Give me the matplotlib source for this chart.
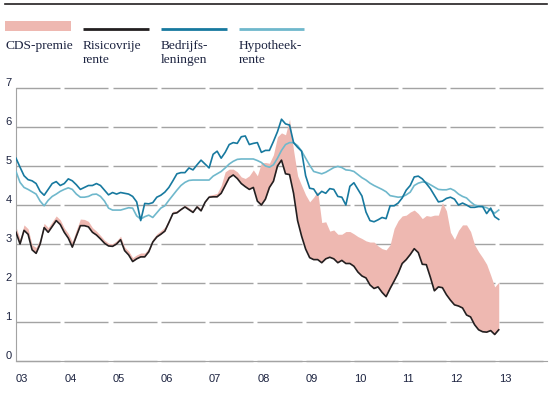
import numpy as np
import matplotlib.pyplot as plt
from matplotlib.patches import Rectangle
from matplotlib.lines import Line2D

# maandcijfers jan 2003 t/m jan 2013 (in %)
start_year = 2003
year_labels = ['03', '04', '05', '06', '07', '08', '09', '10', '11', '12', '13']

risicovrij = [
    3.3, 3.0, 3.35, 3.25, 2.85, 2.76, 3.0, 3.42, 3.3, 3.45, 3.6, 3.5,
    3.3, 3.15, 2.92, 3.2, 3.47, 3.47, 3.44, 3.3, 3.23, 3.13, 3.02, 2.95,
    2.94, 3.0, 3.11, 2.83, 2.72, 2.55, 2.62, 2.67, 2.67, 2.8, 3.05, 3.18,
    3.25, 3.33, 3.55, 3.78, 3.8, 3.88, 3.95, 3.88, 3.81, 3.95, 3.85, 4.07,
    4.2, 4.21, 4.21, 4.3, 4.5, 4.7, 4.77, 4.68, 4.55, 4.47, 4.4, 4.45,
    4.1, 4.0, 4.15, 4.45, 4.61, 5.0, 5.15, 4.8, 4.78, 4.3, 3.6, 3.2,
    2.87, 2.65, 2.6, 2.6, 2.52, 2.62, 2.66, 2.62, 2.52, 2.58, 2.5, 2.5,
    2.43, 2.28, 2.18, 2.13, 1.95, 1.86, 1.9, 1.76, 1.65, 1.86, 2.05, 2.25,
    2.5, 2.6, 2.73, 2.88, 2.78, 2.48, 2.47, 2.15, 1.8, 1.9, 1.88, 1.7,
    1.56, 1.44, 1.41, 1.36, 1.18, 1.13, 0.93, 0.8, 0.75, 0.74, 0.78, 0.68,
    0.8,
]

cds_premie = [
    0.14, 0.13, 0.14, 0.14, 0.13, 0.15, 0.13, 0.11, 0.12, 0.12, 0.12, 0.12,
    0.11, 0.12, 0.14, 0.16, 0.17, 0.16, 0.14, 0.12, 0.1, 0.09, 0.08, 0.07,
    0.07, 0.08, 0.09, 0.09, 0.1, 0.1, 0.1, 0.1, 0.1, 0.09, 0.08, 0.08,
    0.09, 0.1, 0.08, 0.06, 0.05, 0.05, 0.05, 0.05, 0.05, 0.05, 0.05, 0.05,
    0.05, 0.06, 0.09, 0.2, 0.35, 0.22, 0.15, 0.17, 0.17, 0.21, 0.35, 0.45,
    0.65, 1.08, 0.94, 0.62, 0.68, 0.75, 0.7, 1.0, 1.42, 1.1, 1.15, 1.3,
    1.39, 1.43, 1.6, 1.75, 1.03, 0.95, 0.67, 0.74, 0.73, 0.67, 0.82, 0.82,
    0.83, 0.91, 0.96, 0.95, 1.1, 1.19, 1.05, 1.12, 1.2, 1.12, 1.35, 1.35,
    1.22, 1.14, 1.09, 0.99, 1.0, 1.17, 1.26, 1.56, 1.94, 1.84, 2.18, 2.15,
    1.74, 1.68, 1.94, 2.13, 2.31, 2.19, 2.05, 2.0, 1.9, 1.74, 1.42, 1.22,
    1.22,
]

bedrijfsleningen = [
    5.2, 4.97, 4.75, 4.65, 4.62, 4.55, 4.35, 4.25, 4.4, 4.55, 4.6, 4.5,
    4.55, 4.67, 4.62, 4.52, 4.4, 4.45, 4.5, 4.5, 4.55, 4.5, 4.38, 4.26,
    4.32, 4.28, 4.32, 4.3, 4.28, 4.22, 4.08, 3.6, 4.04, 4.03, 4.06, 4.2,
    4.25, 4.33, 4.45, 4.62, 4.8, 4.83, 4.83, 4.95, 4.9, 5.03, 5.15, 5.05,
    4.95, 5.3, 5.38, 5.2, 5.35, 5.55, 5.6, 5.58, 5.75, 5.77, 5.55, 5.58,
    5.6, 5.35, 5.4, 5.4, 5.63, 5.88, 6.2, 6.08, 6.05, 5.6, 5.48, 5.38,
    4.75, 4.43, 4.41, 4.25, 4.35, 4.3, 4.42, 4.4, 4.22, 4.2, 4.0, 4.48,
    4.57, 4.4, 4.23, 3.82, 3.6, 3.57, 3.62, 3.68, 3.65, 3.98, 3.98, 4.05,
    4.18, 4.38, 4.5, 4.72, 4.74, 4.67, 4.55, 4.42, 4.25, 4.08, 4.1, 4.17,
    4.2, 4.15, 4.0, 4.05, 4.0, 3.94, 3.94, 3.96, 3.96, 3.78, 3.92, 3.7,
    3.63,
]

hypotheekrente = [
    4.86, 4.58, 4.45, 4.4, 4.34, 4.28, 4.1, 3.98, 4.12, 4.22, 4.28, 4.35,
    4.4, 4.44, 4.4, 4.28, 4.2, 4.2, 4.22, 4.27, 4.28, 4.22, 4.1, 3.92,
    3.87, 3.87, 3.87, 3.9, 3.93, 3.92, 3.72, 3.64, 3.7, 3.74, 3.68, 3.8,
    3.92, 3.98, 4.12, 4.25, 4.38, 4.5, 4.58, 4.63, 4.64, 4.64, 4.64, 4.64,
    4.64, 4.74, 4.8, 4.86, 4.95, 5.05, 5.12, 5.17, 5.18, 5.18, 5.18, 5.18,
    5.14, 5.09, 5.0, 4.97, 5.03, 5.2, 5.4, 5.55, 5.6, 5.6, 5.52, 5.38,
    5.2, 5.02, 4.86, 4.83, 4.8, 4.84, 4.9, 4.96, 4.99, 4.96, 4.9, 4.89,
    4.86, 4.78, 4.7, 4.64, 4.56, 4.5, 4.45, 4.4, 4.34, 4.24, 4.22, 4.2,
    4.21, 4.26, 4.33, 4.5, 4.56, 4.59, 4.58, 4.52, 4.46, 4.4, 4.39, 4.39,
    4.42, 4.37, 4.28, 4.22, 4.18, 4.08, 4.0, 3.97, 3.96, 3.93, 3.87, 3.79,
    3.87,
]

PINK = '#EEB8B1'
BLACK = '#231F20'
BLUE = '#17799F'
LIGHT = '#6FB8CC'
GRID = '#A3A3A3'
TXT = '#1c2340'

W, H = 555, 393
fig = plt.figure(figsize=(W / 100, H / 100), dpi=100)

# pixel positions of the plot box
ax_l, ax_r, ax_b = 16, 547, 361
ymax = 7.02
ax_t = ax_b - 39 * ymax
ax = fig.add_axes([ax_l / W, 1 - ax_b / H, (ax_r - ax_l) / W, (ax_b - ax_t) / H])

t = start_year + np.arange(len(risicovrij)) / 12.0
rf = np.array(risicovrij)
top = rf + np.array(cds_premie)

years = start_year + np.arange(len(year_labels))

# broken gridlines, one piece per year
for yv in range(0, 8):
    for y0 in years:
        ax.plot([y0, y0 + 1 - 0.085], [yv, yv], color=GRID, lw=1.0,
                solid_capstyle='butt', zorder=1, clip_on=False)

ax.fill_between(t, rf, top, color=PINK, lw=0, zorder=2)
ax.plot(t, hypotheekrente, color=LIGHT, lw=1.2, zorder=3)
ax.plot(t, bedrijfsleningen, color=BLUE, lw=1.2, zorder=4)
ax.plot(t, risicovrij, color=BLACK, lw=1.2, zorder=5)

ax.set_xlim(start_year, start_year + 11)
ax.set_ylim(0, ymax)

for s in ['top', 'right']:
    ax.spines[s].set_visible(False)
ax.spines['left'].set_color(GRID)
ax.spines['bottom'].set_color(GRID)
ax.spines['left'].set_bounds(0, 7)

ax.set_xticks(years)
ax.set_xticklabels(year_labels, ha='left')
ax.set_yticks(range(0, 8))
ax.set_yticklabels([str(v) for v in range(0, 8)])
ax.tick_params(length=0, labelsize=8, colors=TXT)
ax.tick_params(axis='x', pad=9)
ax.tick_params(axis='y', pad=3)
for lab in ax.get_xticklabels() + ax.get_yticklabels():
    lab.set_fontfamily('Liberation Sans')
for lab in ax.get_yticklabels():
    lab.set_va('bottom')


def fx(px):
    return px / W


def fy(py):
    return 1 - py / H


# top rule
fig.add_artist(Line2D([fx(5), fx(547)], [fy(4.3), fy(4.3)], color=BLACK, lw=1.2))

# legend
fig.add_artist(Rectangle((fx(5), fy(31)), 66 / W, 10 / H, color=PINK, lw=0))
for (x0, x1), c in zip([(83, 149), (161, 227), (239, 304)], [BLACK, BLUE, LIGHT]):
    fig.add_artist(Line2D([fx(x0), fx(x1)], [fy(29), fy(29)], color=c, lw=2.0,
                          solid_capstyle='butt'))

labels = ['CDS-premie', 'Risicovrije\nrente', 'Bedrijfs-\nleningen', 'Hypotheek-\nrente']
for x0, txt in zip([5, 83, 161, 239], labels):
    fig.text(fx(x0), fy(40.5), txt, ha='left', va='top', fontsize=9.6,
             family='Liberation Serif', color=TXT, linespacing=1.2)

fig.savefig('out.png', dpi=100)
